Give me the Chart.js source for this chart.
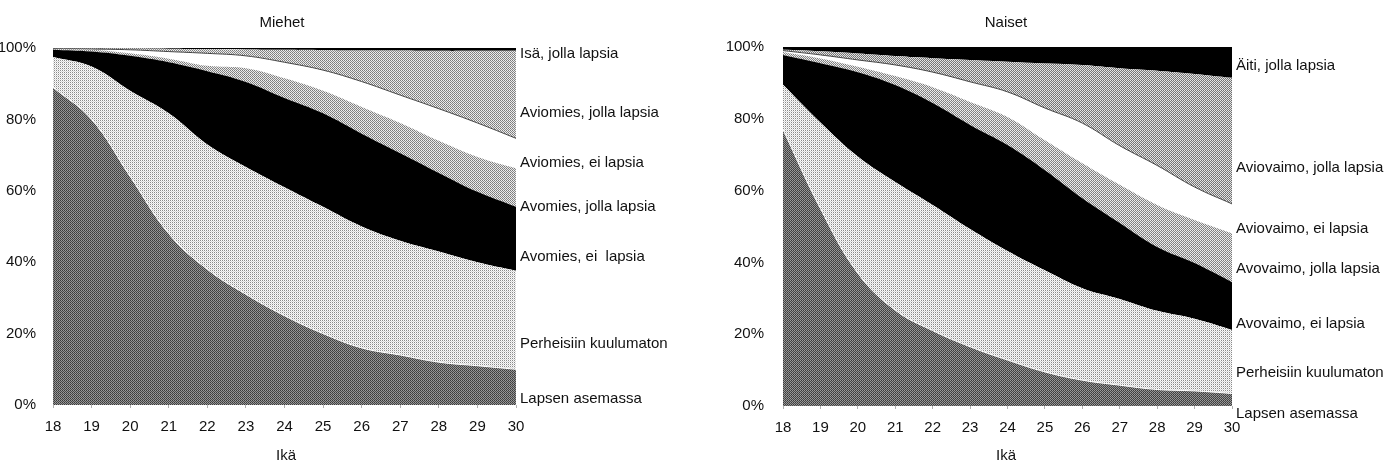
<!DOCTYPE html>
<html lang="fi">
<head>
<meta charset="utf-8">
<title>Miehet ja naiset perheaseman mukaan iän mukaan</title>
<script src="https://cdn.jsdelivr.net/npm/chart.js@4.4.1/dist/chart.umd.min.js"></script>
<style>
  html, body { margin: 0; padding: 0; background: #fff; }
  body { width: 1386px; height: 462px; position: relative; overflow: hidden;
         font-family: 'Liberation Sans Narrow', 'Arial Narrow', 'Liberation Sans', sans-serif; color: #111; }
  canvas { position: absolute; top: 0; }
  #cMen { left: 0; }
  #cWomen { left: 693px; }
  .lbl { position: absolute; font-size: 15px; line-height: 18px; white-space: pre; }
  .ttl { position: absolute; font-size: 15px; line-height: 18px; transform: translateX(-50%); }
</style>
</head>
<body>
<canvas id="cMen" width="693" height="462"></canvas>
<canvas id="cWomen" width="693" height="462"></canvas>

<div class="ttl" style="left:282px; top:13px;">Miehet</div>
<div class="ttl" style="left:1006px; top:13px;">Naiset</div>
<div class="ttl" style="left:286px; top:446px;">Ikä</div>
<div class="ttl" style="left:1006px; top:446px;">Ikä</div>

<div class="lbl" style="left:520px; top:44px;">Isä, jolla lapsia</div>
<div class="lbl" style="left:520px; top:103px;">Aviomies, jolla lapsia</div>
<div class="lbl" style="left:520px; top:153px;">Aviomies, ei lapsia</div>
<div class="lbl" style="left:520px; top:197px;">Avomies, jolla lapsia</div>
<div class="lbl" style="left:520px; top:247px;">Avomies, ei  lapsia</div>
<div class="lbl" style="left:520px; top:334px;">Perheisiin kuulumaton</div>
<div class="lbl" style="left:520px; top:389px;">Lapsen asemassa</div>

<div class="lbl" style="left:1236px; top:56px;">Äiti, jolla lapsia</div>
<div class="lbl" style="left:1236px; top:158px;">Aviovaimo, jolla lapsia</div>
<div class="lbl" style="left:1236px; top:219px;">Aviovaimo, ei lapsia</div>
<div class="lbl" style="left:1236px; top:259px;">Avovaimo, jolla lapsia</div>
<div class="lbl" style="left:1236px; top:314px;">Avovaimo, ei lapsia</div>
<div class="lbl" style="left:1236px; top:363px;">Perheisiin kuulumaton</div>
<div class="lbl" style="left:1236px; top:404px;">Lapsen asemassa</div>

<script>
/* ----------------------------------------------------------
   Data (% of age group)
   ---------------------------------------------------------- */
const ages = ['18', '19', '20', '21', '22', '23', '24', '25', '26', '27', '28', '29', '30'];
const yTicks = [0, 20, 40, 60, 80, 100];

// Miehet, from bottom to top
const lapsenM    = [89, 80, 64, 48, 38, 31, 25, 20, 16, 14, 12, 11, 10];
const perheM     = [8.5, 14.8, 24, 33.7, 35, 35.7, 36, 35.5, 34, 32, 31, 29, 27.6];
const avoEiM     = [2, 4.2, 9.8, 14.3, 20.5, 23.8, 25, 26.2, 26, 24.5, 22, 19.7, 17.9];
const avoJollaM  = [0.2, 0.5, 0.7, 1, 1.5, 3.8, 5.5, 6.3, 7.5, 8.5, 9, 9.8, 10.8];
const avioEiM    = [0.1, 0.2, 1, 2, 3.5, 3.5, 4.5, 5.8, 7.1, 7.8, 9, 9.5, 8.4];
const avioJollaM = [0.2, 0.2, 0.4, 0.8, 1.2, 1.8, 3.5, 5.6, 8.7, 12.5, 16.2, 20.2, 24.5];
const isaM       = [0, 0.1, 0.1, 0.2, 0.3, 0.4, 0.5, 0.6, 0.7, 0.7, 0.8, 0.8, 0.8];

// Naiset, from bottom to top
const lapsenN    = [77, 55, 37, 26.7, 21, 16.5, 12.8, 9.5, 7.2, 5.8, 4.6, 4.2, 3.5];
const perheN     = [12.5, 24, 32.5, 35.7, 35, 32.8, 30.4, 28.3, 25.6, 24, 21.9, 20.1, 17.7];
const avoEiN     = [8.3, 16.5, 23.5, 27, 28.4, 29, 29.5, 27.9, 25.1, 21.2, 17.8, 15.5, 13.3];
const avoJollaN  = [0.8, 1.3, 1.5, 2.5, 4.4, 6.4, 7.8, 8.3, 9.7, 10.6, 11.7, 12, 13.6];
const avioEiN    = [0.4, 1.0, 1.9, 3.1, 4.2, 5.6, 7, 9, 11.2, 10.9, 11, 9.2, 8.2];
const avioJollaN = [0.2, 1.0, 1.8, 2.5, 3.9, 6.1, 8.4, 12.4, 16.2, 21.6, 26.4, 31.5, 35.1];
const aitiN      = [0.8, 1.2, 1.8, 2.5, 3.1, 3.6, 4.1, 4.6, 5, 5.9, 6.6, 7.5, 8.6];

/* ----------------------------------------------------------
   Halftone-like fills
   ---------------------------------------------------------- */
function halftone(a, b, c, d) {
  const t = document.createElement('canvas');
  t.width = 2; t.height = 2;
  const g = t.getContext('2d');
  g.fillStyle = a; g.fillRect(0, 0, 1, 1);
  g.fillStyle = b; g.fillRect(1, 0, 1, 1);
  g.fillStyle = c; g.fillRect(0, 1, 1, 1);
  g.fillStyle = d; g.fillRect(1, 1, 1, 1);
  return g.createPattern(t, 'repeat');
}

const FILL = {
  dark:   halftone('#3a3a3a', '#9c9c9c', '#8e8e8e', '#4a4a4a'),
  light:  halftone('#8a8a8a', '#ffffff', '#f4f4f4', '#d6d6d6'),
  mid:    halftone('#7a7a7a', '#f0f0f0', '#e6e6e6', '#8c8c8c'),
  midDk:  halftone('#6e6e6e', '#e8e8e8', '#dcdcdc', '#7e7e7e'),
  black:  '#000000',
  white:  '#ffffff',
};

const FONT = { family: "'Liberation Sans Narrow', 'Arial Narrow', 'Liberation Sans', sans-serif", size: 15 };

function band(label, data, fill, first, border) {
  return {
    label,
    data,
    backgroundColor: fill,
    borderColor: border || 'rgba(0,0,0,0)',
    borderWidth: border ? 1 : 0,
    fill: first ? 'origin' : '-1',
    pointRadius: 0,
    tension: 0.4,
  };
}

/* ----------------------------------------------------------
   Chart builder
   ---------------------------------------------------------- */
function buildStack(canvasId, datasets, box) {
  return new Chart(document.getElementById(canvasId), {
    type: 'line',
    data: { labels: ages, datasets },
    options: {
      responsive: false,
      animation: false,
      devicePixelRatio: 1,
      layout: { padding: { left: 0, right: box.right, top: box.top, bottom: 0 } },
      plugins: { legend: { display: false }, tooltip: { enabled: false }, title: { display: false } },
      scales: {
        x: {
          type: 'category',
          offset: false,
          border: { display: false },
          grid: { drawOnChartArea: false, tickLength: 3, color: '#b0b0b0' },
          ticks: { font: FONT, color: '#111', padding: 10, maxRotation: 0, autoSkip: false },
          afterFit: (s) => { s.height = box.xHeight; },
        },
        y: {
          stacked: true,
          min: 0,
          max: 100,
          border: { display: false },
          grid: { display: false },
          afterBuildTicks: (s) => { s.ticks = yTicks.map(v => ({ value: v })); },
          ticks: { font: FONT, color: '#111', padding: box.yPad, callback: (v) => v + '%' },
          afterFit: (s) => { s.width = box.yWidth; },
        },
      },
    },
  });
}

buildStack('cMen', [
  band('Lapsen asemassa', lapsenM, FILL.dark, true, '#ffffff'),
  band('Perheisiin kuulumaton', perheM, FILL.light),
  band('Avomies, ei lapsia', avoEiM, FILL.black),
  band('Avomies, jolla lapsia', avoJollaM, FILL.mid),
  band('Aviomies, ei lapsia', avioEiM, FILL.white, false, '#444444'),
  band('Aviomies, jolla lapsia', avioJollaM, FILL.mid),
  band('Isä, jolla lapsia', isaM, FILL.black, false, '#000000'),
], { right: 177, top: 48, xHeight: 57, yWidth: 53, yPad: 9 });

buildStack('cWomen', [
  band('Lapsen asemassa', lapsenN, FILL.dark, true, '#ffffff'),
  band('Perheisiin kuulumaton', perheN, FILL.light),
  band('Avovaimo, ei lapsia', avoEiN, FILL.black),
  band('Avovaimo, jolla lapsia', avoJollaN, FILL.mid),
  band('Aviovaimo, ei lapsia', avioEiN, FILL.white, false, '#444444'),
  band('Aviovaimo, jolla lapsia', avioJollaN, FILL.midDk),
  band('Äiti, jolla lapsia', aitiN, FILL.black, false, '#000000'),
], { right: 154, top: 47, xHeight: 56, yWidth: 90, yPad: 11 });
</script>
</body>
</html>
